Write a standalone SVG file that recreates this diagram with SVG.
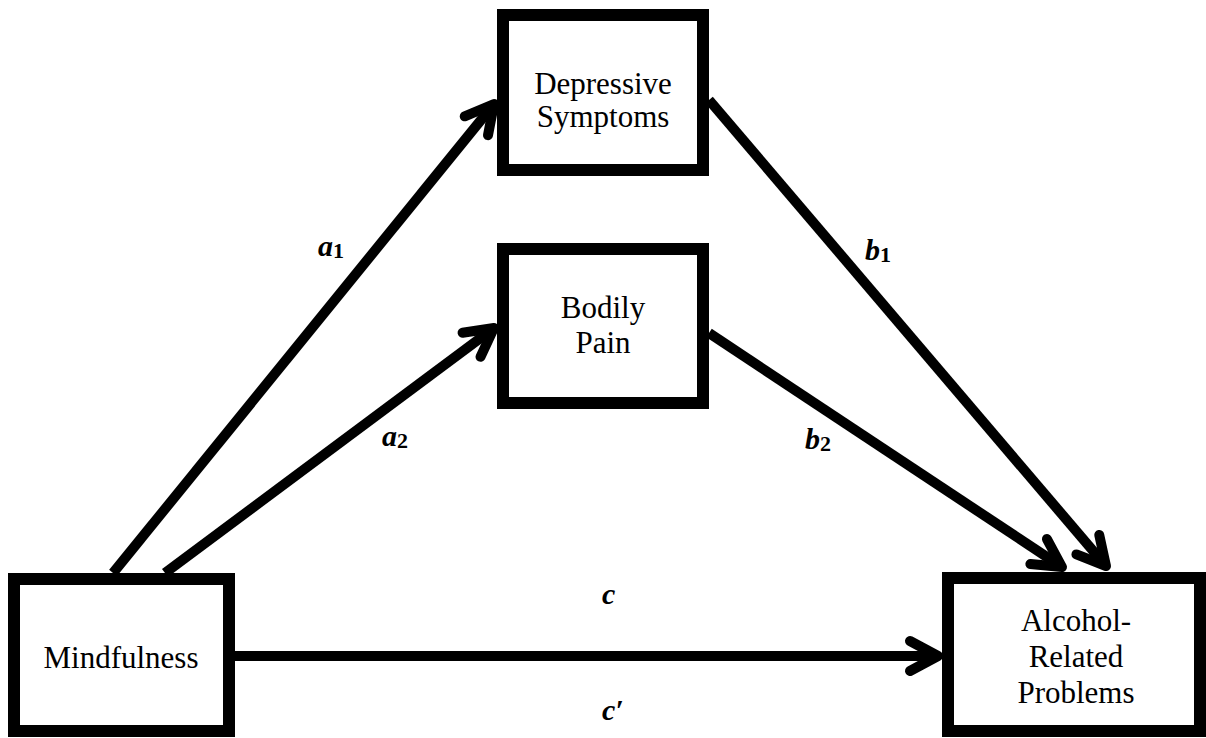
<svg xmlns="http://www.w3.org/2000/svg" width="1206" height="738" viewBox="0 0 1206 738">
<defs>
<style>
.box{fill:#fff;stroke:#000;stroke-width:12}
.lbl{font-family:"Liberation Serif","Times New Roman",serif;font-size:31px;fill:#000;text-anchor:middle}
.path{font-family:"Liberation Serif","Times New Roman",serif;font-size:30px;font-weight:bold;font-style:italic;fill:#000}
.sub{font-size:22px;font-style:normal}
.conn{stroke:#000;stroke-width:10;fill:none;marker-end:url(#arr)}
</style>
<marker id="arr" markerUnits="userSpaceOnUse" markerWidth="50" markerHeight="50" viewBox="-40 -25 50 50" refX="0" refY="0" orient="auto">
<path d="M -28 -15 L 0 0 L -28 15" fill="none" stroke="#000" stroke-width="10" stroke-linecap="round" stroke-linejoin="round"/>
</marker>
</defs>
<rect width="1206" height="738" fill="#fff"/>
<g id="connectors">
<line class="conn" x1="113" y1="573" x2="494" y2="104"/>
<line class="conn" x1="165" y1="573" x2="494" y2="328"/>
<line class="conn" x1="709" y1="100" x2="1106" y2="566"/>
<line class="conn" x1="709" y1="333" x2="1062" y2="567"/>
<line class="conn" x1="235" y1="656" x2="938" y2="656"/>
</g>
<g id="depressive">
<rect class="box" x="503" y="15" width="200" height="155"/>
<text class="lbl" x="603" y="94">Depressive</text>
<text class="lbl" x="603" y="127">Symptoms</text>
</g>
<g id="bodily">
<rect class="box" x="503" y="249" width="200" height="154"/>
<text class="lbl" x="603" y="318">Bodily</text>
<text class="lbl" x="603" y="353">Pain</text>
</g>
<g id="mindfulness">
<rect class="box" x="14" y="579" width="215" height="152"/>
<text class="lbl" x="121" y="668">Mindfulness</text>
</g>
<g id="alcohol">
<rect class="box" x="948" y="578" width="252" height="153"/>
<text class="lbl" x="1076" y="631">Alcohol-</text>
<text class="lbl" x="1076" y="667">Related</text>
<text class="lbl" x="1076" y="703">Problems</text>
</g>
<g id="labels">
<text class="path" x="318" y="256">a<tspan class="sub" dy="2">1</tspan></text>
<text class="path" x="382" y="446">a<tspan class="sub" dy="2">2</tspan></text>
<text class="path" x="865" y="260">b<tspan class="sub" dy="2">1</tspan></text>
<text class="path" x="805" y="449">b<tspan class="sub" dy="2">2</tspan></text>
<text class="path" x="602" y="604">c</text>
<text class="path" x="602" y="720">c′</text>
</g>
</svg>
